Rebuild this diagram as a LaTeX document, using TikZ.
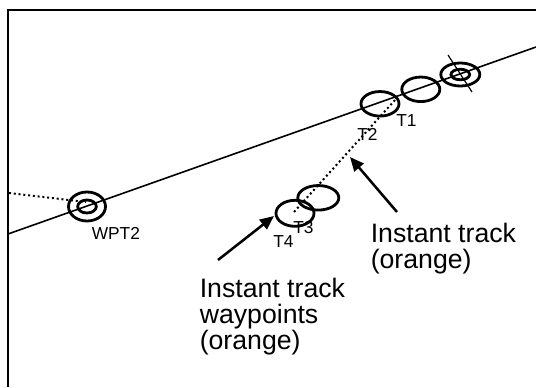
\documentclass[tikz,border=0pt]{standalone}
\usepackage{fontspec}
\setmainfont{Liberation Sans}
\usetikzlibrary{arrows.meta}
\usetikzlibrary{shapes.geometric}

\tikzset{
 trkring/.style={ellipse, draw, line width=2.1pt, inner sep=0pt, minimum width=28.5pt, minimum height=18.4pt},
 trkdot/.style={line width=1.5pt, dash pattern=on 1.5pt off 2.1pt},
 ptr/.style={-{Triangle[length=10.5pt,width=9pt]}, line width=1.9pt},
 lbl/.style={font=\fontsize{13}{15}\selectfont, inner sep=0pt, anchor=base west},
 note/.style={font=\fontsize{20}{19.5}\selectfont, align=left, inner sep=0pt, anchor=north west}
}

\begin{document}
\begin{tikzpicture}[x=0.75pt, y=-0.75pt]
\useasboundingbox (0,0) rectangle (536,387);

 %frame
 \draw[line width=1.8pt] (8,387) -- (8,10) -- (536,10);

 %route
 \coordinate (R0) at (8,234);
 \coordinate (R1) at (536,47);
 \draw[line width=1.2pt] (R0) -- (R1);

 %waypoint WPT2
 \node[trkring, minimum width=27.75pt, minimum height=21.75pt] (WPT2o) at (87,206.5) {};
 \node[trkring, minimum width=14pt, minimum height=9.75pt] (WPT2i) at (87,206.5) {};
 \coordinate (D0) at (9,193);
 \coordinate (D1) at (86,202);
 \draw[trkdot] (D0) -- (D1);
 \node[lbl] (WPT2l) at (91.5,239) {WPT2};

 %waypoint at the top right
 \node[trkring, minimum width=29.25pt, minimum height=17.25pt] (WPo) at (460.3,74.5) {};
 \node[trkring, minimum width=14pt, minimum height=7.9pt] (WPi) at (460.3,74.5) {};
 \coordinate (X0) at (448,55);
 \coordinate (X1) at (472,92);
 \draw[line width=0.9pt] (X0) -- (X1);

 %instant track waypoints
 \node[trkring] (T1) at (420.8,89.3) {};
 \node[trkring] (T2) at (380,103.8) {};
 \node[trkring, minimum width=30.75pt] (T3) at (318.3,197.8) {};
 \node[trkring, minimum height=19.5pt] (T4) at (295,213.3) {};

 \node[lbl] (T1l) at (396,126) {T1};
 \node[lbl] (T2l) at (357,140) {T2};
 \node[lbl] (T3l) at (293,233) {T3};
 \node[lbl] (T4l) at (273,247) {T4};

 %instant track
 \coordinate (TK0) at (395,100);
 \coordinate (TK1) at (294,212);
 \draw[trkdot] (TK0) -- (TK1);

 %notes
 \node[note] (note1) at (370.5,223) {Instant track\\(orange)};
 \node[note] (note2) at (199.5,278) {Instant track\\waypoints\\(orange)};

 \coordinate (tip1) at (350,157);
 \coordinate (tip2) at (274,216);
 \draw[ptr] ([shift={(26.5,-11)}]note1.north west) -- (tip1);
 \draw[ptr] ([shift={(18.5,-18)}]note2.north west) -- (tip2);

\end{tikzpicture}
\end{document}
